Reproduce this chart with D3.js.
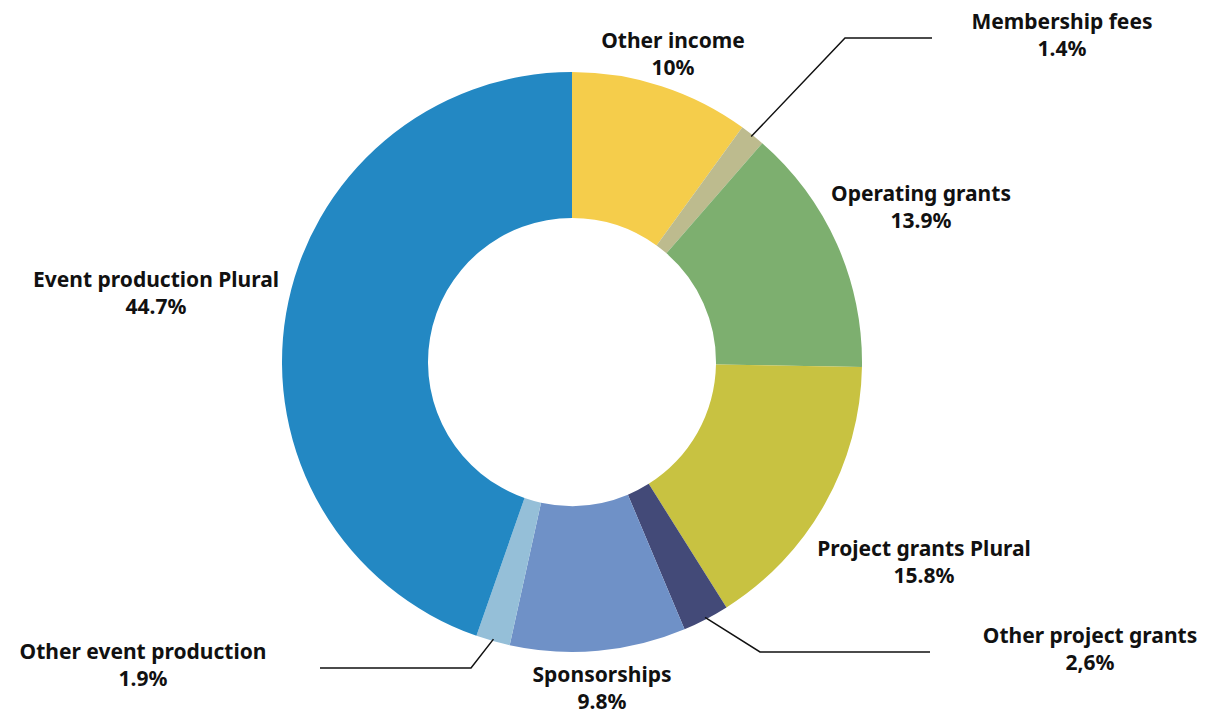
<!DOCTYPE html>
<html>
<head>
<meta charset="utf-8">
<script src="https://cdn.jsdelivr.net/npm/d3@7"></script>
<style>
  body { margin: 0; background: #fff; }
  text { font-family: "Noto Sans", sans-serif; font-weight: 700; fill: #111; }
</style>
</head>
<body>
<div id="donut"></div>
<script>
  // Data, clockwise from 12 o'clock

  var categories = ["Other income", "Membership fees", "Operating grants", "Project grants Plural",
                    "Other project grants", "Sponsorships", "Other event production", "Event production Plural"];
  var values = [10, 1.4, 13.9, 15.8, 2.6, 9.8, 1.9, 44.7];
  var valueLabels = ["10%", "1.4%", "13.9%", "15.8%", "2,6%", "9.8%", "1.9%", "44.7%"];
  var colors = ["#f5cd4b", "#bdbb8e", "#7daf6f", "#c8c241", "#434a78", "#6f91c7", "#95bfd8", "#2388c3"];

  var width = 1205,
      height = 716,
      cx = 572,
      cy = 362,
      outerR = 290,
      innerR = 144;

  var svg = d3.select("#donut")
      .append("svg")
      .attr("width", width)
      .attr("height", height)
      .append("g")
      .attr("transform", `translate(${cx}, ${cy})`);

  var pie = d3.pie().sort(null).value(d => d.value);
  var arc = d3.arc().innerRadius(innerR).outerRadius(outerR);

  var data = categories.map((c, i) => ({name: c, value: values[i], label: valueLabels[i], color: colors[i]}));
  var arcs = pie(data);

  svg.selectAll(".slice")
      .data(arcs)
      .enter().append("path")
      .attr("class", "slice")
      .attr("d", arc)
      .attr("fill", d => d.data.color);

  // Label placement (offsets from center); small slices get a leader line
  var labelPos = [
    {dx: 101, dy: -321},
    {dx: 490, dy: -340, elbow: [273, -324], end: [360, -324]},
    {dx: 349, dy: -168},
    {dx: 352, dy: 187},
    {dx: 518, dy: 274, elbow: [188, 290], end: [358, 290]},
    {dx: 30, dy: 313},
    {dx: -429, dy: 290, elbow: [-101, 306], end: [-252, 306]},
    {dx: -416, dy: -82}
  ];

  var lineH = 27;

  arcs.forEach(function(d, i) {
    var p = labelPos[i];
    if (p.elbow) {
      var mid = (d.startAngle + d.endAngle) / 2;
      var sx = Math.sin(mid) * (outerR - 2),
          sy = -Math.cos(mid) * (outerR - 2);
      svg.append("polyline")
          .attr("points", [[sx, sy], p.elbow, p.end].map(q => q.join(",")).join(" "))
          .attr("fill", "none")
          .attr("stroke", "#111")
          .attr("stroke-width", 1.5);
    }
    var t = svg.append("text")
        .attr("text-anchor", "middle")
        .attr("font-size", "21px");
    t.append("tspan").attr("x", p.dx).attr("y", p.dy + 7).text(d.data.name);
    t.append("tspan").attr("x", p.dx).attr("y", p.dy + 7 + lineH).text(d.data.label);
  });
</script>
</body>
</html>
